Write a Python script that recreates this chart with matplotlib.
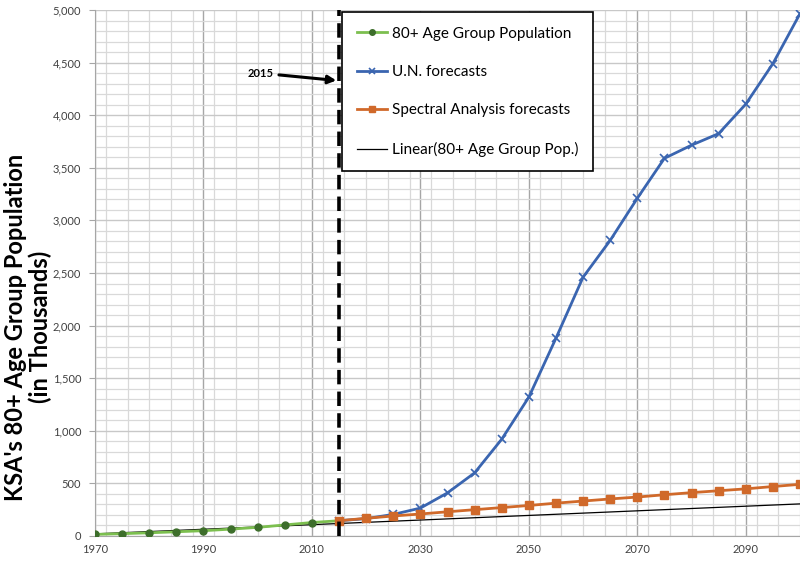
import matplotlib
matplotlib.use("Agg")
import matplotlib.pyplot as plt
from matplotlib.ticker import MultipleLocator, FuncFormatter

plt.rcParams['font.family'] = ['Lato', 'DejaVu Sans']

# ---- data (thousands) ----
hist_years = [1970, 1975, 1980, 1985, 1990, 1995, 2000, 2005, 2010, 2015]
hist_values = [15, 22, 30, 40, 50, 65, 82, 105, 128, 145]

fc_years = [2015, 2020, 2025, 2030, 2035, 2040, 2045, 2050, 2055, 2060,
            2065, 2070, 2075, 2080, 2085, 2090, 2095, 2100]
un_values = [145, 165, 205, 265, 410, 600, 920, 1320, 1880, 2460,
             2810, 3210, 3590, 3715, 3825, 4105, 4490, 4965]
spectral_values = [145, 168, 190, 209, 230, 250, 270, 290, 312, 332,
                   352, 370, 392, 412, 430, 448, 470, 491]

trend_years = [1970, 2100]
trend_values = [20, 305]

marker_year = 2015
x_ticks = [1970, 1990, 2010, 2030, 2050, 2070, 2090]

fig = plt.figure(figsize=(8.0, 5.61), dpi=100)
ax = fig.add_axes([0.11875, 0.0446, 0.88125, 0.9376])

ax.set_xlim(1970, 2100)
ax.set_ylim(0, 5000)

# grid
ax.xaxis.set_major_locator(MultipleLocator(20))
ax.xaxis.set_minor_locator(MultipleLocator(4))
ax.yaxis.set_major_locator(MultipleLocator(500))
ax.yaxis.set_minor_locator(MultipleLocator(100))
ax.grid(which='minor', color='#D9D9D9', lw=0.9)
ax.grid(which='major', axis='x', color='#A6A6A6', lw=1.0)
ax.grid(which='major', axis='y', color='#C8C8C8', lw=1.0)
ax.set_axisbelow(True)
ax.set_xticks(x_ticks)
ax.yaxis.set_major_formatter(FuncFormatter(lambda v, p: f"{int(v):,}"))
ax.tick_params(which='both', length=0, labelsize=8, colors='#404040', pad=6)
ax.tick_params(axis='y', which='major', length=4, color='#A6A6A6')

for s in ['top', 'right']:
    ax.spines[s].set_visible(False)
ax.spines['left'].set_color('#A6A6A6')
ax.spines['bottom'].set_color('#A6A6A6')

# series
l1, = ax.plot(hist_years, hist_values, color='#7CBF4F', lw=2.0, marker='o',
              ms=5, mfc='#3D6E2B', mec='#3D6E2B', zorder=4,
              label='80+ Age Group Population')
l2, = ax.plot(fc_years, un_values, color='#3A65B0', lw=2.0, marker='x',
              ms=6, mew=1.2, zorder=3, label='U.N. forecasts')
l3, = ax.plot(fc_years, spectral_values, color='#D0692A', lw=2.0, marker='s',
              ms=6, zorder=5, label='Spectral Analysis forecasts')
l4, = ax.plot(trend_years, trend_values, color='black', lw=0.9, zorder=2,
              label='Linear(80+ Age Group Pop.)')

# 2015 marker
ax.axvline(marker_year, color='black', lw=2.6, ls=(0, (4, 2)), zorder=6)
ax.annotate(str(marker_year), xy=(2014.5, 4330), xytext=(2000.5, 4400),
            fontsize=8, fontweight='bold', ha='center', va='center',
            arrowprops=dict(arrowstyle='-|>', color='black', lw=2.2,
                            mutation_scale=12, shrinkA=2, shrinkB=0))

fig.text(28 / 800, 1 - 327 / 561,
         "KSA's 80+ Age Group Population\n(in Thousands)",
         rotation=90, fontsize=17, fontweight='bold', ha='center', va='center',
         linespacing=1.05, multialignment='center')

leg = ax.legend(handles=[l1, l2, l3, l4], loc='upper left',
                bbox_to_anchor=(342 / 800, 1 - 12 / 561), bbox_transform=fig.transFigure,
                fontsize=11, frameon=True, fancybox=False, edgecolor='black',
                framealpha=1, labelspacing=1.6, handlelength=2.0,
                handletextpad=0.3, borderpad=0.95, borderaxespad=0)
leg.get_frame().set_linewidth(1.2)
for h in leg.legend_handles:
    h.set_markersize(4)
leg.set_zorder(10)

fig.savefig('out.png', dpi=100)
